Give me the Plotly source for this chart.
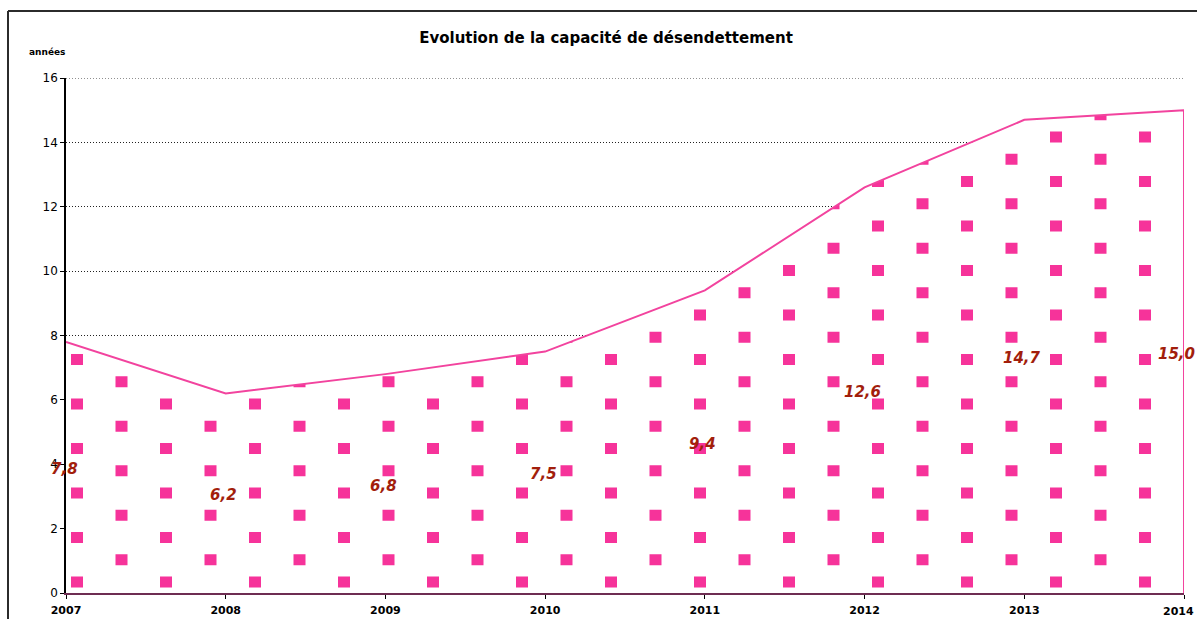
import numpy as np
import plotly.graph_objects as go

# Capacité de désendettement (années)
years = [2007, 2008, 2009, 2010, 2011, 2012, 2013, 2014]
capacite = [7.8, 6.2, 6.8, 7.5, 9.4, 12.6, 14.7, 15.0]
y_ticks = [0, 2, 4, 6, 8, 10, 12, 14, 16]
x_ticks = years

W, H = 1197, 619
ML, MR, MT, MB = 66, 13, 78, 26
plot_w = W - ML - MR
plot_h = H - MT - MB
X0, X1 = years[0], years[-1]
Y0, Y1 = y_ticks[0], y_ticks[-1]
px_x = plot_w / (X1 - X0)   # pixels per year
px_y = plot_h / (Y1 - Y0)   # pixels per unit

PINK_SQ = "#F6339A"
PINK_LINE = "#F2439E"
LABEL_RED = "#A21E0C"
FONT = "DejaVu Sans"
TICK_FONT = dict(family=FONT, size=11, color="black", weight="bold")

# Staggered square motif filling the area under the curve,
# each square clipped against the curve.
STEP, SQ_W, SQ_H, OFF = 44.5, 12, 11, 11
sq_x, sq_y = [], []
i = 0
while True:
    cx = X0 + (OFF + i * STEP) / px_x
    if cx + SQ_W / 2 / px_x > X1:
        break
    base = OFF + (STEP / 2 if i % 2 else 0)
    left, right = cx - SQ_W / 2 / px_x, cx + SQ_W / 2 / px_x
    xs = np.linspace(left, right, 9)
    curve = np.interp(xs, years, capacite)
    j = 0
    while True:
        cy = (base + j * STEP) / px_y
        bottom, top = cy - SQ_H / 2 / px_y, cy + SQ_H / 2 / px_y
        tops = np.minimum(top, curve)
        if tops.max() <= bottom:
            break
        tops = np.maximum(tops, bottom)
        sq_x += [left, right] + list(xs[::-1]) + [left, None]
        sq_y += [bottom, bottom] + list(tops[::-1]) + [bottom, None]
        j += 1
    i += 1

fig = go.Figure()

# white area hides the grid under the curve
fig.add_trace(go.Scatter(
    x=years, y=capacite, mode="none", fill="tozeroy",
    fillcolor="white", hoverinfo="skip", showlegend=False))

fig.add_trace(go.Scatter(
    x=sq_x, y=sq_y, mode="none", fill="toself", fillcolor=PINK_SQ,
    connectgaps=False, hoverinfo="skip", showlegend=False))

# outline of the area (top edge and right edge)
fig.add_trace(go.Scatter(
    x=years + [years[-1]], y=capacite + [0], mode="lines",
    line=dict(color=PINK_LINE, width=2), hoverinfo="skip", showlegend=False))

# value labels, centred at half height of each point
for k, (yr, v) in enumerate(zip(years, capacite)):
    txt = f"{v:.1f}".replace(".", ",")
    shift = -2
    if k == len(years) - 1:
        shift = -8
    fig.add_annotation(
        x=yr, y=v / 2, text=txt, showarrow=False, xshift=shift, yshift=-2,
        font=dict(family=FONT, size=15, color=LABEL_RED, weight="bold", style="italic"))

fig.add_annotation(
    xref="paper", yref="paper", x=(27 - ML) / plot_w, y=1 + (MT - 52) / plot_h,
    xanchor="left", yanchor="middle", showarrow=False, text="années",
    font=dict(family=FONT, size=9, color="black", weight="bold"))

# last year label, right-aligned so it stays inside the page
x_ticktext = [str(t) for t in x_ticks]
fig.add_annotation(
    x=x_ticks[-1], xref="x", y=0, yref="paper", text=x_ticktext[-1],
    xanchor="right", yanchor="top", xshift=W - 1 - (ML + plot_w), yshift=-10,
    showarrow=False, font=TICK_FONT)
x_ticktext[-1] = ""

# chart frame
fig.add_shape(type="line", xref="paper", yref="paper",
              x0=(8 - ML) / plot_w, x1=(W + 5 - ML) / plot_w,
              y0=1 + (MT - 11) / plot_h, y1=1 + (MT - 11) / plot_h,
              line=dict(color="#2b2b2b", width=2))
fig.add_shape(type="line", xref="paper", yref="paper",
              x0=(8 - ML) / plot_w, x1=(8 - ML) / plot_w,
              y0=1 + (MT - 11) / plot_h, y1=-(MB + 5) / plot_h,
              line=dict(color="#2b2b2b", width=2))

# top grid line (at the upper edge of the range)
fig.add_shape(type="line", xref="paper", yref="y", x0=0, x1=1, y0=Y1, y1=Y1,
              line=dict(color="#222", width=1, dash="1px,2px"), layer="below")

fig.update_layout(
    width=W, height=H,
    margin=dict(l=ML, r=MR, t=MT, b=MB, pad=0, autoexpand=False),
    paper_bgcolor="white", plot_bgcolor="white",
    title=dict(text="Evolution de la capacité de désendettement",
               x=606 / W, xanchor="center", y=1 - 38 / H, yanchor="middle",
               font=dict(family=FONT, size=15, color="black", weight="bold")),
    xaxis=dict(range=[X0, X1], tickvals=x_ticks, ticktext=x_ticktext,
               showgrid=False, zeroline=False, showline=True, linecolor="#6E2D52",
               linewidth=2, ticks="outside", ticklen=4, tickcolor="black", tickwidth=1,
               tickfont=TICK_FONT,
               ticklabelstandoff=2, ticklabeloverflow="allow", automargin=False,
               fixedrange=True, layer="above traces"),
    yaxis=dict(range=[Y0, Y1], tickvals=y_ticks, showgrid=True, gridcolor="#222",
               griddash="1px,2px", gridwidth=1, zeroline=False, showline=True,
               linecolor="black", linewidth=1.5, ticks="outside", ticklen=4,
               tickcolor="black", tickwidth=1, automargin=False,
               tickfont=dict(family=FONT, size=12, color="black"),
               fixedrange=True, layer="above traces"),
    showlegend=False,
)

fig.write_html("out.html")
